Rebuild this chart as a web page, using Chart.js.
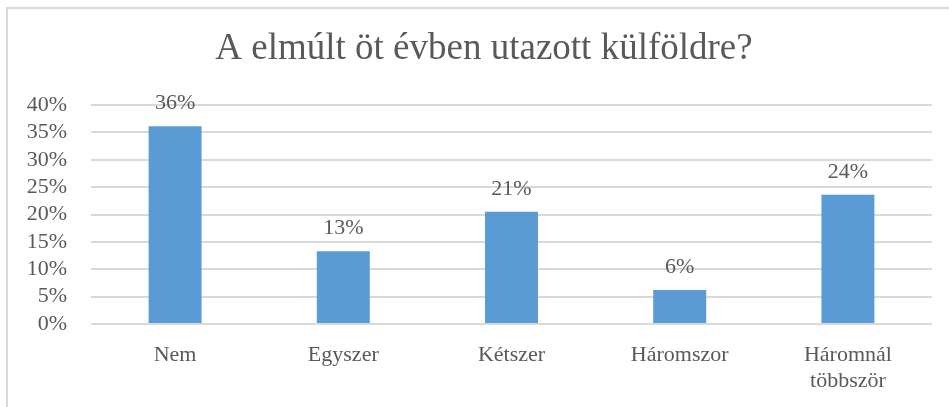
<!DOCTYPE html>
<html>
<head>
<meta charset="utf-8">
<script src="https://cdn.jsdelivr.net/npm/chart.js@4"></script>
<style>
  html, body { margin: 0; padding: 0; background: #fff; }
  #wrap { position: relative; width: 949px; height: 407px; overflow: hidden; }
  #frame { position: absolute; left: 6px; top: 7px; width: 960px; height: 420px;
           border: 2px solid #d9d9d9; box-sizing: border-box; }
  canvas { position: absolute; left: 0; top: 0; }
</style>
</head>
<body>
<div id="wrap">
  <div id="frame"></div>
  <canvas id="chart" width="949" height="407"></canvas>
</div>
<script>
// Survey answers (share of respondents, %)
const chartTitle = 'A elmúlt öt évben utazott külföldre?';
const categories = ['Nem', 'Egyszer', 'Kétszer', 'Háromszor', ['Háromnál', 'többször']];
const shares = [36.1, 13.3, 20.5, 6.2, 23.6];
const yTicks = [0, 5, 10, 15, 20, 25, 30, 35, 40];

const textColor = '#595959';
const serif = '"Liberation Serif", "Times New Roman", serif';

// title + value labels above bars
const extraText = {
  id: 'extraText',
  afterDatasetsDraw(chart) {
    const ctx = chart.ctx;
    const meta = chart.getDatasetMeta(0);
    ctx.save();
    ctx.fillStyle = textColor;
    ctx.textAlign = 'center';
    ctx.textBaseline = 'middle';
    ctx.font = '37px ' + serif;
    ctx.fillText(chartTitle, 484, 49);
    ctx.font = '22px ' + serif;
    meta.data.forEach((bar, i) => {
      ctx.fillText(Math.round(shares[i]) + '%', bar.x, bar.y - 23);
    });
    ctx.restore();
  }
};

new Chart(document.getElementById('chart'), {
  type: 'bar',
  data: {
    labels: categories,
    datasets: [{
      data: shares,
      backgroundColor: '#5b9bd5',
      borderWidth: 0,
      barPercentage: 0.315,
      categoryPercentage: 1
    }]
  },
  options: {
    responsive: false,
    animation: false,
    layout: { padding: { left: 0, right: 17, top: 105, bottom: 0 } },
    plugins: {
      legend: { display: false },
      tooltip: { enabled: false },
      title: { display: false }
    },
    scales: {
      x: {
        grid: { display: false, drawTicks: false },
        border: { display: false },
        ticks: {
          color: textColor,
          font: { family: serif, size: 22 },
          padding: 18,
          maxRotation: 0
        },
        afterFit(scale) { scale.height = 83; }
      },
      y: {
        min: 0,
        max: 40,
        afterBuildTicks(scale) { scale.ticks = yTicks.map(v => ({ value: v })); },
        grid: { color: '#d9d9d9', lineWidth: 2, drawTicks: false },
        border: { display: false },
        ticks: {
          color: textColor,
          font: { family: serif, size: 22 },
          padding: 24,
          autoSkip: false,
          callback: v => v + '%'
        },
        afterFit(scale) { scale.width = 91; }
      }
    }
  },
  plugins: [extraText]
});
</script>
</body>
</html>
